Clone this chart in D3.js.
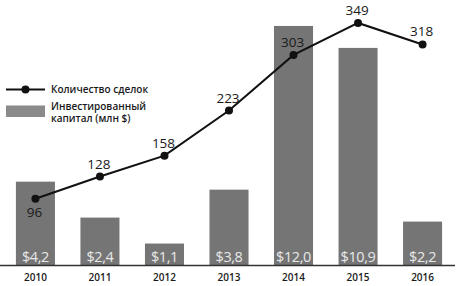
<!DOCTYPE html>
<html><head><meta charset="utf-8">
<script src="https://cdn.jsdelivr.net/npm/d3@7"></script>
<style>body{margin:0;background:#fff}svg{display:block}text{font-family:"Open Sans","Noto Sans",sans-serif}</style>
</head><body><svg id="c" width="460" height="286"></svg>
<script>
const years = ["2010","2011","2012","2013","2014","2015","2016"];
const capital = [4.2, 2.4, 1.1, 3.8, 12.0, 10.9, 2.2];
const capitalLabels = ["$4,2","$2,4","$1,1","$3,8","$12,0","$10,9","$2,2"];
const deals = [96, 128, 158, 223, 303, 349, 318];
const legendLabels = ["Количество сделок", "Инвестированный", "капитал (млн $)"];

const svg = d3.select("#c");
const baseY = 265.5;
const x = d3.scaleBand().domain(years).range([3, 455]).paddingInner(0.395).paddingOuter(0.2);
const yBar = d3.scaleLinear().domain([0, 13.3]).range([baseY, 0]);
const yLine = d3.scaleLinear().domain([0, 382]).range([baseY, 0]);

// bars
svg.selectAll("rect.bar").data(years).join("rect").attr("class","bar")
  .attr("x", d => x(d)).attr("width", x.bandwidth())
  .attr("y", (d,i) => yBar(capital[i])).attr("height", (d,i) => baseY - yBar(capital[i]))
  .attr("fill", "#757575");

// bar labels
svg.selectAll("text.bl").data(years).join("text").attr("class","bl")
  .attr("x", d => x(d) + x.bandwidth()/2).attr("y", 262)
  .attr("text-anchor","middle").attr("font-size", 14.5).attr("letter-spacing", -0.4)
  .attr("fill","#e8e8e8")
  .text((d,i) => capitalLabels[i]);

// axis
const axis = d3.axisBottom(x).tickSize(0).tickPadding(8);
const g = svg.append("g").attr("transform", `translate(0,${baseY})`).call(axis);
g.select(".domain").remove();
g.selectAll("text").attr("font-size", 10).attr("font-weight", 600).attr("fill","#1a1a1a")
  .attr("font-family", '"Open Sans",sans-serif');
svg.append("line").attr("x1", 0).attr("x2", 455).attr("y1", baseY).attr("y2", baseY)
  .attr("stroke", "#333").attr("stroke-width", 1.3);

// line
const cx = d => x(d) + x.bandwidth()/2;
const line = d3.line().x((d,i) => cx(years[i])).y(d => yLine(d));
svg.append("path").datum(deals).attr("d", line).attr("fill","none")
  .attr("stroke","#111").attr("stroke-width", 2);
svg.selectAll("circle.pt").data(deals).join("circle").attr("class","pt")
  .attr("cx", (d,i) => cx(years[i])).attr("cy", d => yLine(d)).attr("r", 4).attr("fill","#111");
svg.selectAll("text.pl").data(deals).join("text").attr("class","pl")
  .attr("x", (d,i) => cx(years[i]) - 1)
  .attr("y", (d,i) => i === 0 ? yLine(d) + 18 : yLine(d) - 8)
  .attr("text-anchor","middle").attr("font-size", 13.5).attr("fill","#1a1a1a")
  .text(d => d);

// legend
const lg = svg.append("g");
lg.append("line").attr("x1", 6).attr("x2", 45).attr("y1", 89.5).attr("y2", 89.5)
  .attr("stroke","#111").attr("stroke-width", 2);
lg.append("circle").attr("cx", 25.5).attr("cy", 89.5).attr("r", 4).attr("fill","#111");
lg.append("rect").attr("x", 6).attr("y", 105.5).attr("width", 39).attr("height", 11.5).attr("fill","#8a8a8a");
lg.selectAll("text").data(legendLabels).join("text")
  .attr("x", 51).attr("y", (d,i) => [93, 109.5, 122][i])
  .attr("font-size", 10).attr("font-weight", 600).attr("fill","#1a1a1a").text(d => d);
</script></body></html>
